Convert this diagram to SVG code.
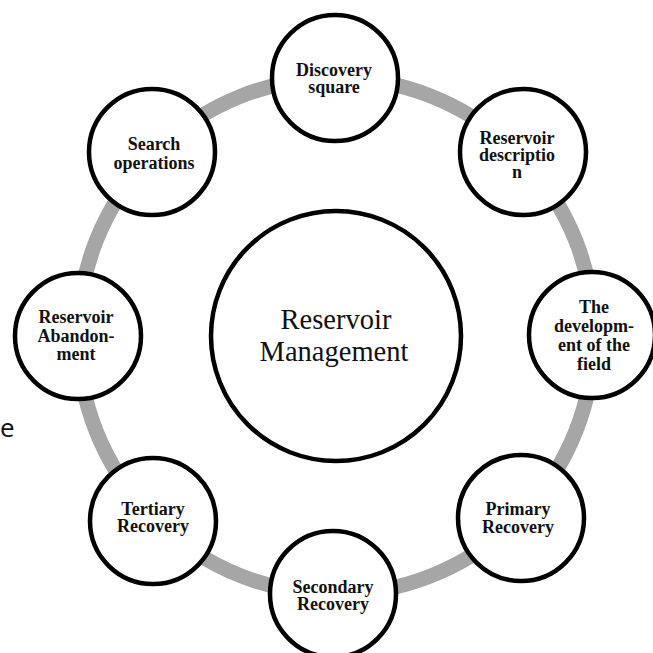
<svg xmlns="http://www.w3.org/2000/svg" width="653" height="653" viewBox="0 0 653 653">
<style>
.node{fill:#ffffff;stroke:#000000;stroke-width:4.5}
.lbl{font-family:"Liberation Serif","Times New Roman",serif;font-weight:bold;font-size:18px;fill:#111111;text-anchor:middle}
.main{font-family:"Liberation Serif","Times New Roman",serif;font-size:28.5px;fill:#111111;text-anchor:middle}
.ring{fill:none;stroke:#a6a6a6;stroke-width:15}
</style>
<rect width="653" height="653" fill="#ffffff"/>
<g id="connectors">
<circle class="ring" cx="336" cy="336" r="258"/>
</g>
<g id="center">
<circle class="node" cx="336" cy="336" r="125"/>
<text class="main" x="336" y="329">Reservoir</text>
<text class="main" x="334" y="361">Management</text>
</g>
<g id="discovery">
<circle class="node" cx="335" cy="78" r="63"/>
<text class="lbl" x="334" y="76">Discovery</text>
<text class="lbl" x="334" y="93">square</text>
</g>
<g id="description">
<circle class="node" cx="523" cy="152" r="63"/>
<text class="lbl" x="517" y="144">Reservoir</text>
<text class="lbl" x="517" y="161">descriptio</text>
<text class="lbl" x="517" y="178">n</text>
</g>
<g id="development">
<circle class="node" cx="592" cy="335" r="63"/>
<text class="lbl" x="594" y="313">The</text>
<text class="lbl" x="594" y="332">developm-</text>
<text class="lbl" x="594" y="351">ent of the</text>
<text class="lbl" x="594" y="370">field</text>
</g>
<g id="primary">
<circle class="node" cx="521" cy="518" r="63"/>
<text class="lbl" x="518" y="515">Primary</text>
<text class="lbl" x="518" y="533">Recovery</text>
</g>
<g id="secondary">
<circle class="node" cx="333" cy="594" r="63"/>
<text class="lbl" x="333" y="593">Secondary</text>
<text class="lbl" x="333" y="610">Recovery</text>
</g>
<g id="tertiary">
<circle class="node" cx="153" cy="521" r="63"/>
<text class="lbl" x="153" y="515">Tertiary</text>
<text class="lbl" x="153" y="532">Recovery</text>
</g>
<g id="abandonment">
<circle class="node" cx="78" cy="336" r="63"/>
<text class="lbl" x="76" y="323">Reservoir</text>
<text class="lbl" x="76" y="342">Abandon-</text>
<text class="lbl" x="76" y="360">ment</text>
</g>
<g id="search">
<circle class="node" cx="152" cy="152" r="63"/>
<text class="lbl" x="154" y="150">Search</text>
<text class="lbl" x="154" y="169">operations</text>
</g>
<text x="0" y="437" font-family="'Open Sans','Liberation Sans',sans-serif" font-size="26" fill="#111111">e</text>
</svg>
